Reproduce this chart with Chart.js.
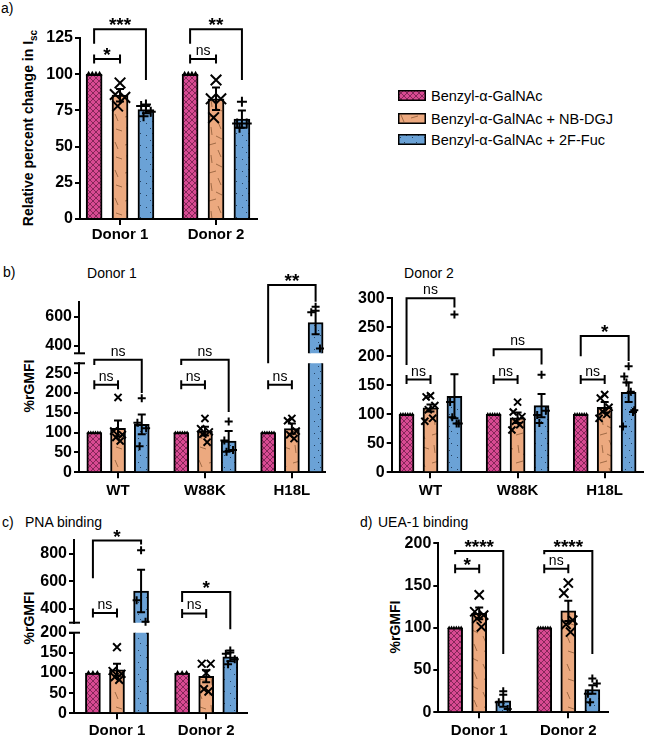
<!DOCTYPE html>
<html>
<head>
<meta charset="utf-8">
<script src="https://cdn.jsdelivr.net/npm/chart.js@4.4.1/dist/chart.umd.min.js"></script>
<style>
  body { margin: 0; background: #fff; }
  #fig { position: relative; width: 650px; height: 738px; overflow: hidden;
         font-family: 'Liberation Sans', Arial, Helvetica, sans-serif; color: #000; }
  #fig canvas { position: absolute; }
  .lbl { position: absolute; font-size: 14px; line-height: 14px; white-space: nowrap; }
  .leg { position: absolute; font-size: 14.5px; line-height: 14px; white-space: nowrap; }
  .ttl { position: absolute; font-size: 14px; line-height: 14px; white-space: nowrap; transform: translateX(-50%); }
  .ytitle { position: absolute; font-weight: bold; font-size: 14px; line-height: 14px; white-space: nowrap;
            transform: translate(-50%, -50%) rotate(-90deg); }
  .ytitle sub { font-size: 10px; }
</style>
</head>
<body>
<div id="fig">
  <div class="lbl" style="left:1px; top:1px;">a)</div>
  <div class="lbl" style="left:3px; top:265px;">b)</div>
  <div class="ttl" style="left:112px; top:266px;">Donor 1</div>
  <div class="ttl" style="left:429px; top:266px;">Donor 2</div>
  <div class="lbl" style="left:2px; top:515px;">c)</div>
  <div class="lbl" style="left:25px; top:515px;">PNA binding</div>
  <div class="lbl" style="left:360px; top:515px;">d)</div>
  <div class="lbl" style="left:378px; top:515px;">UEA-1 binding</div>

  <div class="ytitle" style="left:31px; top:128px;">Relative percent change in I<sub>sc</sub></div>
  <div class="ytitle" style="left:29px; top:386px;">%rGMFI</div>
  <div class="ytitle" style="left:29px; top:618px;">%rGMFI</div>
  <div class="ytitle" style="left:395px; top:627px;">%rGMFI</div>

  <div id="legend"></div>

  <canvas id="ca"></canvas>
  <canvas id="cb1hi"></canvas>
  <canvas id="cb1lo"></canvas>
  <canvas id="cb2"></canvas>
  <canvas id="cchi"></canvas>
  <canvas id="cclo"></canvas>
  <canvas id="cd"></canvas>
</div>

<script>
Chart.defaults.font.family = "'Liberation Sans', Arial, Helvetica, sans-serif";
Chart.defaults.color = '#000';

const SERIES = ['Benzyl-α-GalNAc', 'Benzyl-α-GalNAc + NB-DGJ', 'Benzyl-α-GalNAc + 2F-Fuc'];
const GROUPS_DONOR = ['Donor 1', 'Donor 2'];
const GROUPS_LECTIN = ['WT', 'W88K', 'H18L'];

// a) relative change in Isc
const A_BENZ = [100, 100];
const A_NBDGJ = [85.5, 83];
const A_2FFUC = [75.5, 69];
const A_SEM_NBDGJ = [4.3, 7.8];
const A_SEM_2FFUC = [2.5, 6];
const A_PTS_BENZ = [[100, 100, 100, 100], [100, 100, 100, 100]];
const A_PTS_NBDGJ = [[94, 86, 84, 78], [96, 83, 83, 70]];
const A_PTS_2FFUC = [[79, 78, 74, 71], [81, 66, 66, 63]];
const A_TICKS = [0, 25, 50, 75, 100, 125];

// b) donor 1
const B1_BENZ = [100, 100, 100];
const B1_NBDGJ = [111, 104, 110];
const B1_2FFUC = [121, 79, 560];
const B1_SEM_NBDGJ = [20, 11, 13];
const B1_SEM_2FFUC = [25, 25, 80];
const B1_PTS_BENZ = [[100, 100, 100, 100, 100, 100], [100, 100, 100, 100, 100, 100], [100, 100, 100, 100, 100, 100]];
const B1_PTS_NBDGJ = [[189, 104, 95, 88, 79], [136, 110, 102, 96, 76], [136, 130, 104, 95, 85]];
const B1_PTS_2FFUC = [[187, 125, 111, 66], [128, 80, 56, 52], [668, 630, 382]];
const B1_TICKS_LOW = [0, 50, 100, 150, 200, 250];
const B1_TICKS_HIGH = [400, 600];

// b) donor 2
const B2_BENZ = [100, 100, 100];
const B2_NBDGJ = [111, 94, 112];
const B2_2FFUC = [131, 115, 138];
const B2_SEM_NBDGJ = [6, 9, 9];
const B2_SEM_2FFUC = [38, 20, 17];
const B2_PTS_BENZ = [[100, 100, 100, 100, 100, 100], [100, 100, 100, 100, 100, 100], [100, 100, 100, 100, 100, 100]];
const B2_PTS_NBDGJ = [[132, 130, 115, 108, 93, 88], [121, 104, 96, 88, 82, 73], [134, 128, 112, 105, 100, 93]];
const B2_PTS_2FFUC = [[272, 121, 84, 95, 84], [168, 99, 106, 85], [183, 165, 104, 155, 139, 79, 107]];
const B2_TICKS = [0, 50, 100, 150, 200, 250, 300];

// c) PNA binding
const C_BENZ = [100, 100];
const C_NBDGJ = [108, 92];
const C_2FFUC = [530, 140];
const C_SEM_NBDGJ = [15, 15];
const C_SEM_2FFUC = [155, 11];
const C_PTS_BENZ = [[100, 100, 100], [100, 100, 100]];
const C_PTS_NBDGJ = [[164, 105, 98, 90, 83], [100, 123, 123, 60, 54]];
const C_PTS_2FFUC = [[826, 463, 306], [156, 148, 134, 122]];
const C_TICKS_LOW = [0, 50, 100, 150, 200];
const C_TICKS_HIGH = [400, 600, 800];

// d) UEA-1 binding
const D_BENZ = [100, 100];
const D_NBDGJ = [117, 120];
const D_2FFUC = [13.7, 27];
const D_SEM_NBDGJ = [7, 12];
const D_SEM_2FFUC = [7, 5];
const D_PTS_BENZ = [[100, 100, 100, 100, 100, 100], [100, 100, 100, 100, 100, 100]];
const D_PTS_NBDGJ = [[139, 119, 115, 111, 101], [153, 141, 109, 104, 95]];
const D_PTS_2FFUC = [[25, 12, 4], [40, 22, 34, 12]];
const D_TICKS = [0, 50, 100, 150, 200];

// significance brackets: group, series a -> series b, height, leg ends
const A_SIG = [
  { g: 1, a: 0, b: 1, y: 110.5, text: '*' },
  { g: 1, a: 0, b: 2, y: 131, legs: [121, 96], text: '***' },
  { g: 2, a: 0, b: 1, y: 110.5, text: 'ns' },
  { g: 2, a: 0, b: 2, y: 131, legs: [121, 96], text: '**' },
];
const B1_SIG_LOW = [
  { g: 1, a: 0, b: 1, y: 221, text: 'ns' },
  { g: 2, a: 0, b: 1, y: 221, text: 'ns' },
  { g: 3, a: 0, b: 1, y: 221, text: 'ns' },
  { g: 1, a: 0, b: 2, y: 284, legs: [271, 200], text: 'ns' },
  { g: 2, a: 0, b: 2, y: 284, legs: [271, 152], text: 'ns' },
];
const B1_SIG_HIGH = [
  { g: 3, a: 0, b: 2, y: 816, legs: [282, 702], text: '**' },
];
const B2_SIG = [
  { g: 1, a: 0, b: 1, y: 160, text: 'ns' },
  { g: 2, a: 0, b: 1, y: 160, text: 'ns' },
  { g: 3, a: 0, b: 1, y: 160, text: 'ns' },
  { g: 1, a: 0, b: 2, y: 300, legs: [185, 284], text: 'ns' },
  { g: 2, a: 0, b: 2, y: 212, legs: [200, 186], text: 'ns' },
  { g: 3, a: 0, b: 2, y: 235, legs: [200, 192], text: '*' },
];
const C_SIG_HIGH = [
  { g: 1, a: 0, b: 1, y: 371, text: 'ns' },
  { g: 1, a: 0, b: 2, y: 896, legs: [622, 867], text: '*' },
  { g: 2, a: 0, b: 1, y: 367, text: 'ns' },
  { g: 2, a: 0, b: 2, y: 523, legs: [450, 253], text: '*' },
];
const D_SIG = [
  { g: 1, a: 0, b: 1, y: 170, text: '*' },
  { g: 1, a: 0, b: 2, y: 191, legs: [187, 69], text: '****' },
  { g: 2, a: 0, b: 1, y: 170, text: 'ns' },
  { g: 2, a: 0, b: 2, y: 191, legs: [187, 69], text: '****' },
];

const OFFSET = [-1, 0, 1];
const JIT = [0, -0.05, 0.05, -0.025, 0.025, -0.065, 0.065];
const MARKS = ['triangle', 'crossRot', 'cross'];
const FONT = "'Liberation Sans', Arial, Helvetica, sans-serif";

function makePatterns(ctx) {
  const mk = (w, h, draw) => {
    const c = document.createElement('canvas');
    c.width = w; c.height = h;
    draw(c.getContext('2d'), w, h);
    return ctx.createPattern(c, 'repeat');
  };
  const pink = mk(6, 6, (g, w, h) => {
    g.fillStyle = '#d84a92'; g.fillRect(0, 0, w, h);
    g.strokeStyle = '#7c2452'; g.lineWidth = 0.9;
    g.beginPath();
    g.moveTo(-1, -1); g.lineTo(w + 1, h + 1);
    g.moveTo(w + 1, -1); g.lineTo(-1, h + 1);
    g.stroke();
  });
  const orange = mk(28, 28, (g, w, h) => {
    g.fillStyle = '#eca97f'; g.fillRect(0, 0, w, h);
    g.strokeStyle = '#80502e'; g.lineWidth = 0.7;
    const segs = [[3, 2, 6, 9], [13, 5, 20, 3], [22, 10, 25, 17], [4, 17, 10, 19], [15, 15, 16, 23], [20, 24, 26, 27]];
    g.beginPath();
    segs.forEach(s => { g.moveTo(s[0], s[1]); g.lineTo(s[2], s[3]); });
    g.stroke();
  });
  const blue = mk(12, 12, (g, w, h) => {
    g.fillStyle = '#6ba2d6'; g.fillRect(0, 0, w, h);
    g.fillStyle = '#24405f';
    [[2, 3], [8, 1], [6, 8]].forEach(p => g.fillRect(p[0], p[1], 1, 1));
  });
  return [pink, orange, blue];
}

// error bars, significance brackets and axis-break marks
function marksPlugin(p) {
  return {
    id: 'marks',
    afterDatasetsDraw(chart) {
      const { ctx, chartArea: ca } = chart;
      const xs = chart.scales.x, ys = chart.scales.y;
      ctx.save();
      ctx.beginPath();
      ctx.rect(ca.left - 10, ca.top, ca.right - ca.left + 20, ca.bottom - ca.top);
      ctx.clip();
      ctx.strokeStyle = '#000'; ctx.lineWidth = 2;
      chart.data.datasets.forEach(ds => {
        if (!ds.sem) return;
        ds.data.forEach((pt, j) => {
          const s = ds.sem[j];
          if (!s) return;
          const px = xs.getPixelForValue(pt.x);
          const lo = ys.getPixelForValue(pt.y - s), hi = ys.getPixelForValue(pt.y + s);
          ctx.beginPath();
          ctx.moveTo(px, lo); ctx.lineTo(px, hi);
          ctx.moveTo(px - 4, lo); ctx.lineTo(px + 4, lo);
          ctx.moveTo(px - 4, hi); ctx.lineTo(px + 4, hi);
          ctx.stroke();
        });
      });
      ctx.restore();

      ctx.save();
      ctx.strokeStyle = '#000'; ctx.fillStyle = '#000'; ctx.lineWidth = 2;
      ctx.textAlign = 'center'; ctx.textBaseline = 'alphabetic';
      (p.sig || []).forEach(b => {
        const x1 = xs.getPixelForValue(b.g + OFFSET[b.a] * p.d);
        const x2 = xs.getPixelForValue(b.g + OFFSET[b.b] * p.d);
        const yt = ys.getPixelForValue(b.y);
        ctx.beginPath();
        if (b.legs) {
          ctx.moveTo(x1, ys.getPixelForValue(b.legs[0]));
          ctx.lineTo(x1, yt); ctx.lineTo(x2, yt);
          ctx.lineTo(x2, ys.getPixelForValue(b.legs[1]));
        } else {
          ctx.moveTo(x1, yt); ctx.lineTo(x2, yt);
          ctx.moveTo(x1, yt - 4.5); ctx.lineTo(x1, yt + 4.5);
          ctx.moveTo(x2, yt - 4.5); ctx.lineTo(x2, yt + 4.5);
        }
        ctx.stroke();
        const stars = b.text !== 'ns';
        ctx.font = stars ? 'bold 19px ' + FONT : '14px ' + FONT;
        ctx.fillText(b.text, (x1 + x2) / 2, stars ? yt + 2 : yt - 4);
      });
      (p.breaks || []).forEach(pos => {
        const yy = pos === 'top' ? ca.top : ca.bottom;
        ctx.beginPath();
        ctx.moveTo(ca.left - 5, yy); ctx.lineTo(ca.left + 6, yy);
        ctx.stroke();
      });
      ctx.restore();
    }
  };
}

function buildChart(id, p) {
  const cv = document.getElementById(id);
  const b = p.box, a = p.area;
  cv.width = b.w; cv.height = b.h;
  cv.style.left = b.left + 'px'; cv.style.top = b.top + 'px';
  cv.style.width = b.w + 'px'; cv.style.height = b.h + 'px';
  const ctx = cv.getContext('2d');
  const pats = makePatterns(ctx);
  const xOf = (g, k) => g + 1 + OFFSET[k] * p.d;

  const datasets = [];
  p.series.forEach((s, k) => {
    const pts = [];
    s.pts.forEach((arr, g) => arr.forEach((v, i) => {
      const dx = k === 0 ? (i - (arr.length - 1) / 2) * p.triStep : JIT[i % JIT.length];
      pts.push({ x: xOf(g, k) + dx, y: v });
    }));
    datasets.push({
      type: 'scatter', label: SERIES[k] + ' (replicates)', order: 1, clip: 8,
      data: pts, pointStyle: MARKS[k], pointRadius: p.radius[k], pointHoverRadius: p.radius[k],
      pointBackgroundColor: '#000', pointBorderColor: '#000', pointBorderWidth: k === 0 ? 0 : 2,
    });
    datasets.push({
      type: 'bar', label: SERIES[k], order: 2, clip: 0, grouped: false, barThickness: p.bw,
      data: s.mean.map((v, g) => ({ x: xOf(g, k), y: v })),
      sem: s.sem, backgroundColor: pats[k], borderColor: '#000', borderWidth: 2,
    });
  });

  const xh = p.showX ? p.xh : 0;
  const pad = { left: 0, top: a.T - b.top, right: b.left + b.w - a.R, bottom: b.top + b.h - a.B - xh };

  new Chart(ctx, {
    type: 'bar',
    data: { datasets },
    options: {
      responsive: false, animation: false, devicePixelRatio: 1,
      layout: { padding: pad },
      plugins: { legend: { display: false }, tooltip: { enabled: false } },
      scales: {
        x: {
          type: 'linear', min: p.x[0], max: p.x[1], offset: false, display: p.showX,
          afterBuildTicks: s => { s.ticks = p.groups.map((_, i) => ({ value: i + 1 })); },
          afterFit: s => { s.height = xh; s.paddingLeft = 0; s.paddingRight = 0; },
          ticks: { callback: (v, i) => p.groups[i], font: { size: 15, weight: 'bold' },
                   padding: p.xpad, autoSkip: false, maxRotation: 0, color: '#000' },
          grid: { offset: false, drawOnChartArea: false, tickLength: 6, lineWidth: 2, color: '#000' },
          border: { color: '#000', width: 2 },
        },
        y: {
          type: 'linear', min: p.y[0], max: p.y[1],
          afterBuildTicks: s => { s.ticks = p.ticks.map(v => ({ value: v })); },
          afterFit: s => { s.width = a.L - b.left; s.paddingTop = 0; s.paddingBottom = 0; },
          ticks: { font: { size: 16, weight: 'bold', lineHeight: 1 }, padding: 2, color: '#000',
                   autoSkip: false, autoSkipPadding: 0 },
          grid: { drawOnChartArea: false, tickLength: 5, lineWidth: 2, color: '#000' },
          border: { color: '#000', width: 2 },
        },
      },
    },
    plugins: [marksPlugin(p)],
  });
}

const SER_A = [
  { mean: A_BENZ, sem: null, pts: A_PTS_BENZ },
  { mean: A_NBDGJ, sem: A_SEM_NBDGJ, pts: A_PTS_NBDGJ },
  { mean: A_2FFUC, sem: A_SEM_2FFUC, pts: A_PTS_2FFUC },
];
const SER_B1 = [
  { mean: B1_BENZ, sem: null, pts: B1_PTS_BENZ },
  { mean: B1_NBDGJ, sem: B1_SEM_NBDGJ, pts: B1_PTS_NBDGJ },
  { mean: B1_2FFUC, sem: B1_SEM_2FFUC, pts: B1_PTS_2FFUC },
];
const SER_B2 = [
  { mean: B2_BENZ, sem: null, pts: B2_PTS_BENZ },
  { mean: B2_NBDGJ, sem: B2_SEM_NBDGJ, pts: B2_PTS_NBDGJ },
  { mean: B2_2FFUC, sem: B2_SEM_2FFUC, pts: B2_PTS_2FFUC },
];
const SER_C = [
  { mean: C_BENZ, sem: null, pts: C_PTS_BENZ },
  { mean: C_NBDGJ, sem: C_SEM_NBDGJ, pts: C_PTS_NBDGJ },
  { mean: C_2FFUC, sem: C_SEM_2FFUC, pts: C_PTS_2FFUC },
];
const SER_D = [
  { mean: D_BENZ, sem: null, pts: D_PTS_BENZ },
  { mean: D_NBDGJ, sem: D_SEM_NBDGJ, pts: D_PTS_NBDGJ },
  { mean: D_2FFUC, sem: D_SEM_2FFUC, pts: D_PTS_2FFUC },
];

// panel a
buildChart('ca', {
  box: { left: 0, top: 0, w: 270, h: 250 }, area: { L: 80, T: 38, R: 257, B: 219 },
  x: [0.583, 2.427], y: [0, 125], ticks: A_TICKS, groups: GROUPS_DONOR,
  d: 0.27, bw: 16, showX: true, xh: 31, xpad: 1, radius: [3.4, 7.5, 5], triStep: 0.038,
  series: SER_A, sig: A_SIG,
});

// panel b, donor 1 (broken axis: two charts sharing one box)
const B1_BOX = { left: 0, top: 262, w: 332, h: 243 };
buildChart('cb1hi', {
  box: B1_BOX, area: { L: 79, T: 302, R: 328, B: 353.3 },
  x: [0.551, 3.381], y: [350, 700], ticks: B1_TICKS_HIGH, groups: GROUPS_LECTIN,
  d: 0.273, bw: 15, showX: false, xh: 0, xpad: 0, radius: [2.2, 5, 4], triStep: 0.027,
  series: SER_B1, sig: B1_SIG_HIGH, breaks: ['bottom'],
});
buildChart('cb1lo', {
  box: B1_BOX, area: { L: 79, T: 363.3, R: 328, B: 472.3 },
  x: [0.551, 3.381], y: [0, 275], ticks: B1_TICKS_LOW, groups: GROUPS_LECTIN,
  d: 0.273, bw: 15, showX: true, xh: 32.7, xpad: 4, radius: [2.2, 5, 4], triStep: 0.027,
  series: SER_B1, sig: B1_SIG_LOW, breaks: ['top'],
});

// panel b, donor 2
buildChart('cb2', {
  box: { left: 335, top: 262, w: 315, h: 243 }, area: { L: 391.7, T: 298.3, R: 648.3, B: 472.3 },
  x: [0.5546, 3.44], y: [0, 300], ticks: B2_TICKS, groups: GROUPS_LECTIN,
  d: 0.275, bw: 15, showX: true, xh: 32.7, xpad: 4, radius: [2.2, 5, 4], triStep: 0.027,
  series: SER_B2, sig: B2_SIG,
});

// panel c (broken axis)
const C_BOX = { left: 0, top: 522, w: 262, h: 216 };
buildChart('cchi', {
  box: C_BOX, area: { L: 74, T: 540, R: 246.7, B: 622.7 },
  x: [0.518, 2.454], y: [300, 900], ticks: C_TICKS_HIGH, groups: GROUPS_DONOR,
  d: 0.27, bw: 15, showX: false, xh: 0, xpad: 0, radius: [3, 5.5, 4], triStep: 0.05,
  series: SER_C, sig: C_SIG_HIGH, breaks: ['bottom'],
});
buildChart('cclo', {
  box: C_BOX, area: { L: 74, T: 632.7, R: 246.7, B: 713.3 },
  x: [0.518, 2.454], y: [0, 200], ticks: C_TICKS_LOW, groups: GROUPS_DONOR,
  d: 0.27, bw: 15, showX: true, xh: 24.7, xpad: 3, radius: [3, 5.5, 4], triStep: 0.05,
  series: SER_C, sig: [], breaks: ['top'],
});

// panel d
buildChart('cd', {
  box: { left: 340, top: 522, w: 300, h: 216 }, area: { L: 438.3, T: 543.3, R: 608.3, B: 712.3 },
  x: [0.541, 2.449], y: [0, 200], ticks: D_TICKS, groups: GROUPS_DONOR,
  d: 0.27, bw: 15, showX: true, xh: 25.7, xpad: 4, radius: [2.2, 6.5, 4], triStep: 0.027,
  series: SER_D, sig: D_SIG,
});

// legend
(function () {
  const legend = document.getElementById('legend');
  const rows = [90, 113, 134];
  SERIES.forEach((name, k) => {
    const sw = document.createElement('canvas');
    sw.width = 28; sw.height = 11;
    sw.style.left = '398px'; sw.style.top = rows[k] + 'px';
    const g = sw.getContext('2d');
    g.fillStyle = makePatterns(g)[k];
    g.fillRect(0, 0, 28, 11);
    g.strokeStyle = '#000'; g.lineWidth = 1.5;
    g.strokeRect(0.75, 0.75, 26.5, 9.5);
    const t = document.createElement('div');
    t.className = 'leg';
    t.style.left = '431px'; t.style.top = (rows[k] - 1) + 'px';
    t.textContent = name;
    legend.appendChild(sw);
    legend.appendChild(t);
  });
})();
</script>
</body>
</html>
